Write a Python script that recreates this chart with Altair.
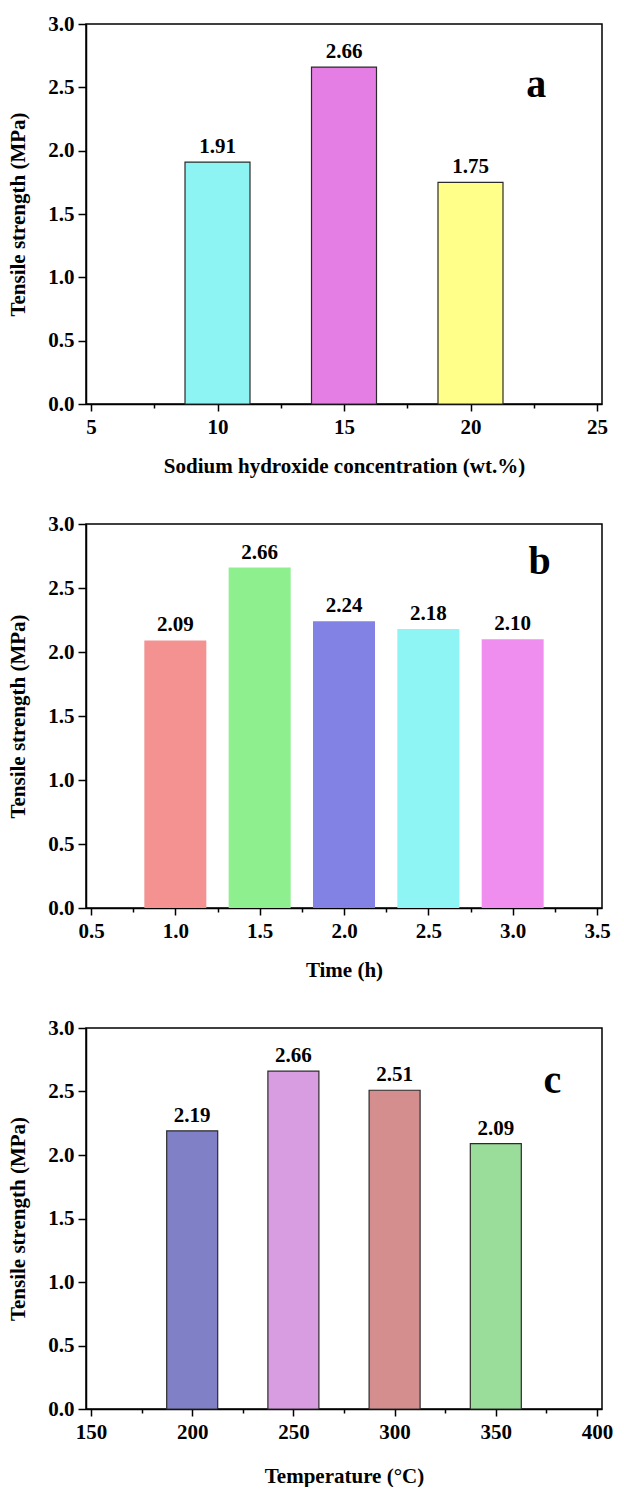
import altair as alt
import pandas as pd

# ---- data ----
naoh_conc = [10, 15, 20]
naoh_strength = [1.91, 2.66, 1.75]

time_h = [1.0, 1.5, 2.0, 2.5, 3.0]
time_strength = [2.09, 2.66, 2.24, 2.18, 2.10]

temp_c = [200, 250, 300, 350]
temp_strength = [2.19, 2.66, 2.51, 2.09]

y_ticks = [i * 0.25 for i in range(13)]
x_ticks_a = [5, 7.5, 10, 12.5, 15, 17.5, 20, 22.5, 25]
x_ticks_b = [0.5, 0.75, 1.0, 1.25, 1.5, 1.75, 2.0, 2.25, 2.5, 2.75, 3.0, 3.25, 3.5]
x_ticks_c = [150, 175, 200, 225, 250, 275, 300, 325, 350, 375, 400]

# ---- styles ----
colors_a = ["#8ef3f3", "#e47ee4", "#ffff8a"]
colors_b = ["#f49292", "#8eef8e", "#8282e4", "#8ef4f4", "#f08ef0"]
colors_c = ["#8080c6", "#d89ce0", "#d48e8e", "#9adc9a"]
FONT = "Liberation Serif"
FS = 21


def y_axis():
    return alt.Axis(
        title="Tensile strength (MPa)",
        values=y_ticks,
        labelExpr="datum.value % 0.5 === 0 ? format(datum.value, '.1f') : ''",
        tickSize={"condition": {"test": "datum.value % 0.5 === 0", "value": 8}, "value": 4},
        labelPadding=4,
        titlePadding=19,
        grid=False,
    )


def x_axis(title, values, step, fmt, tpad):
    return alt.Axis(
        title=title,
        values=values,
        labelExpr=f"datum.value % {step} === 0 ? format(datum.value, '{fmt}') : ''",
        tickSize={"condition": {"test": f"datum.value % {step} === 0", "value": 7}, "value": 4},
        labelPadding=5,
        titlePadding=tpad,
        labelFlush=False,
        labelOverlap=False,
        grid=False,
    )


def panel(xs, ys, colors, domain, ticks, step, fmt, title, tpad, barsize,
          stroke, letter, lx, ly, height):
    df = pd.DataFrame({"x": xs, "y": ys})
    xenc = alt.X("x:Q", scale=alt.Scale(domain=domain, nice=False, zero=False),
                 axis=x_axis(title, ticks, step, fmt, tpad))
    yenc = alt.Y("y:Q", scale=alt.Scale(domain=[0, 3], nice=False), axis=y_axis())
    bar_kwargs = dict(size=barsize)
    if stroke:
        bar_kwargs.update(stroke="#2b2b2b", strokeWidth=1.2)
    bars = alt.Chart(df).mark_bar(**bar_kwargs).encode(
        x=xenc,
        y=yenc,
        color=alt.Color("x:N", scale=alt.Scale(domain=xs, range=colors), legend=None),
    )
    labels = alt.Chart(df).mark_text(
        baseline="bottom", dy=-5, fontSize=FS, fontWeight="bold", font=FONT, color="black"
    ).encode(x="x:Q", y="y:Q", text=alt.Text("y:Q", format=".2f"))
    tag = alt.Chart(pd.DataFrame({"t": [letter]})).mark_text(
        fontSize=40, fontWeight="bold", font=FONT, baseline="middle", align="center", color="black"
    ).encode(x=alt.datum(lx), y=alt.datum(ly), text="t:N")
    return alt.layer(bars, labels, tag).properties(width=516, height=height)


pa = panel(naoh_conc, naoh_strength, colors_a, [5, 25], x_ticks_a, 5, "d",
           "Sodium hydroxide concentration (wt.%)", 18, 65, True, "a", 22.6, 2.52, 380)
pb = panel(time_h, time_strength, colors_b, [0.5, 3.5], x_ticks_b, 0.5, ".1f",
           "Time (h)", 18, 62, False, "b", 3.16, 2.70, 384)
pc = panel(temp_c, temp_strength, colors_c, [150, 400], x_ticks_c, 50, "d",
           "Temperature (\u00b0C)", 23, 51, True, "c", 378, 2.58, 381)

chart = alt.vconcat(pa, pb, pc, spacing=35).resolve_scale(
    color="independent", x="independent"
).properties(
    padding={"left": 7, "top": 12, "right": 0, "bottom": 0},
    background="white",
).configure_view(
    stroke="black", strokeWidth=1.5
).configure_axis(
    labelFont=FONT, titleFont=FONT, labelFontSize=FS, titleFontSize=FS,
    labelFontWeight="bold", titleFontWeight="bold",
    labelColor="black", titleColor="black",
    domainColor="black", domainWidth=1.5, tickColor="black", tickWidth=1.5,
)

chart.save("out.html", embed_options={"renderer": "svg", "actions": False})
